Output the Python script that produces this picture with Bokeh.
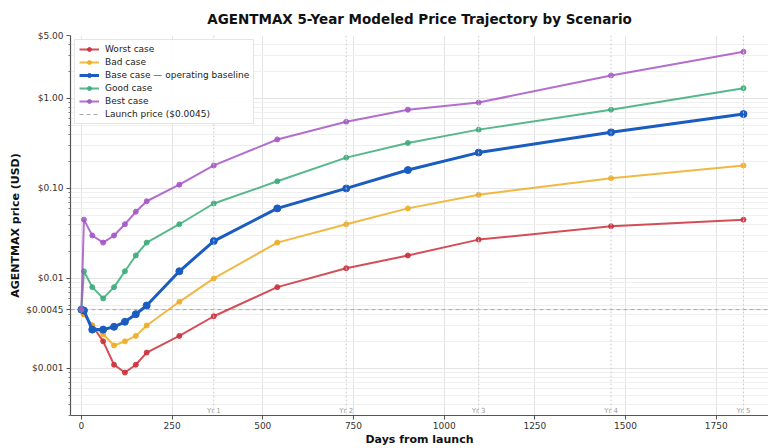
from bokeh.plotting import figure
from bokeh.models import (Range1d, FixedTicker, Legend, LegendItem, Span, ColumnDataSource)
from bokeh.embed import file_html
from bokeh.resources import INLINE
from bokeh.core.properties import value

# ---- data ----
days = [0, 7, 30, 60, 90, 120, 150, 180, 270, 365, 540, 730, 900, 1095, 1460, 1825]
worst = [0.0045, 0.004, 0.003, 0.002, 0.0011, 0.0009, 0.0011, 0.0015, 0.0023, 0.0038, 0.008, 0.013, 0.018, 0.027, 0.038, 0.045]
bad = [0.0045, 0.004, 0.003, 0.0024, 0.0018, 0.002, 0.0023, 0.003, 0.0055, 0.01, 0.025, 0.04, 0.06, 0.085, 0.13, 0.18]
base = [0.0045, 0.0044, 0.0027, 0.0027, 0.0029, 0.0033, 0.004, 0.005, 0.012, 0.026, 0.06, 0.1, 0.16, 0.25, 0.42, 0.67]
good = [0.0045, 0.012, 0.008, 0.006, 0.008, 0.012, 0.018, 0.025, 0.04, 0.068, 0.12, 0.22, 0.32, 0.45, 0.75, 1.3]
best = [0.0045, 0.045, 0.03, 0.025, 0.03, 0.04, 0.055, 0.072, 0.11, 0.18, 0.35, 0.55, 0.75, 0.9, 1.8, 3.3]

series_names = ["Worst case", "Bad case", "Base case \u2014 operating baseline", "Good case", "Best case"]
launch_price = 0.0045
launch_label = "Launch price ($0.0045)"

x_ticks = [0, 250, 500, 750, 1000, 1250, 1500, 1750]
y_ticks = [0.001, 0.0045, 0.01, 0.1, 1.0, 5.0]
y_tick_labels = ["$0.001", "$0.0045", "$0.01", "$0.10", "$1.00", "$5.00"]
year_days = [365, 730, 1095, 1460, 1825]
year_labels = ["Yr 1", "Yr 2", "Yr 3", "Yr 4", "Yr 5"]

x_lo, x_hi = -30, 1894
y_lo, y_hi = 0.0003, 5.0

FONT = "DejaVu Sans"

p = figure(width=768, height=448, y_axis_type="log",
           x_range=Range1d(x_lo, x_hi), y_range=Range1d(y_lo, y_hi),
           output_backend="svg", toolbar_location=None,
           min_border_left=70, min_border_right=0, min_border_top=35, min_border_bottom=33)

p.title.text = "AGENTMAX 5-Year Modeled Price Trajectory by Scenario"
p.title.align = "center"
p.title.text_font = FONT
p.title.text_font_size = "13.5px"
p.title.text_font_style = "bold"
p.title.text_color = "#111111"
p.title.offset = 0
p.title.standoff = 17

p.outline_line_color = None
p.background_fill_color = "white"
p.border_fill_color = "white"

# minor ticks for log axis
minor = []
for dec in [0.0001, 0.001, 0.01, 0.1, 1.0]:
    for m in range(2, 10):
        v = dec * m
        if y_lo <= v <= y_hi:
            minor.append(v)

p.yaxis.ticker = FixedTicker(ticks=y_ticks, minor_ticks=minor)
p.yaxis.major_label_overrides = {v: l for v, l in zip(y_ticks, y_tick_labels)}
p.xaxis.ticker = FixedTicker(ticks=x_ticks)

for ax in (p.xaxis, p.yaxis):
    ax.axis_line_color = "#555555"
    ax.axis_line_width = 1.2
    ax.major_tick_line_color = "#555555"
    ax.minor_tick_line_color = "#777777"
    ax.major_tick_out = 4
    ax.major_tick_in = 0
    ax.minor_tick_out = 2
    ax.minor_tick_in = 0
    ax.major_label_text_font = FONT
    ax.major_label_text_font_size = "9px"
    ax.major_label_text_color = "#333333"
    ax.axis_label_text_font = FONT
    ax.axis_label_text_font_size = "11px"
    ax.axis_label_text_font_style = "bold"
    ax.axis_label_text_color = "#111111"
p.xaxis.minor_tick_line_color = None
p.xaxis.axis_label = "Days from launch"
p.yaxis.axis_label = "AGENTMAX price (USD)"
p.xaxis.axis_label_standoff = 1
p.yaxis.axis_label_standoff = 1
p.xaxis.major_label_standoff = 2
p.yaxis.major_label_standoff = 3

p.xgrid.grid_line_color = "#e4e4e4"
p.ygrid.grid_line_color = "#e4e4e4"
p.ygrid.minor_grid_line_color = "#efefef"

# year markers
for d in year_days:
    p.add_layout(Span(location=d, dimension="height", line_color="#cccccc",
                      line_width=1, line_dash="2 2"))
p.text(x=year_days, y=[y_lo] * len(year_days), text=year_labels,
       text_font=value(FONT), text_font_size="7px", text_color="#999999",
       text_align="center", text_baseline="bottom", y_offset=-1)

# launch price line
launch_r = p.line(x=[x_lo, x_hi], y=[launch_price, launch_price],
                  line_color="#aaaaaa", line_width=1, line_dash="4 3")

colors = ["#cc2f3a", "#eeac22", "#1a5cbf", "#3aab78", "#a456c4"]
alphas = [0.85, 0.85, 1.0, 0.85, 0.85]
widths = [2, 2, 3, 2, 2]
sizes = [5, 5, 7, 5, 5]
data = [worst, bad, base, good, best]

items = []
for name, ys, c, a, w, s in zip(series_names, data, colors, alphas, widths, sizes):
    src = ColumnDataSource(dict(x=days, y=ys))
    lr = p.line("x", "y", source=src, line_color=c, line_width=w, line_alpha=a)
    sr = p.scatter("x", "y", source=src, size=s, fill_color=c, line_color=c,
                   fill_alpha=a, line_alpha=a)
    items.append(LegendItem(label=name, renderers=[lr, sr]))
items.append(LegendItem(label=launch_label, renderers=[launch_r]))

legend = Legend(items=items, location="top_left")
legend.margin = 4
legend.padding = 4
legend.spacing = 3
legend.label_text_font = FONT
legend.label_text_font_size = "9px"
legend.label_text_color = "#222222"
legend.label_height = 10
legend.glyph_height = 10
legend.glyph_width = 20
legend.label_standoff = 6
legend.border_line_color = "#cccccc"
legend.background_fill_alpha = 0.9
p.add_layout(legend)

open("out.html", "w").write(file_html(p, INLINE))
